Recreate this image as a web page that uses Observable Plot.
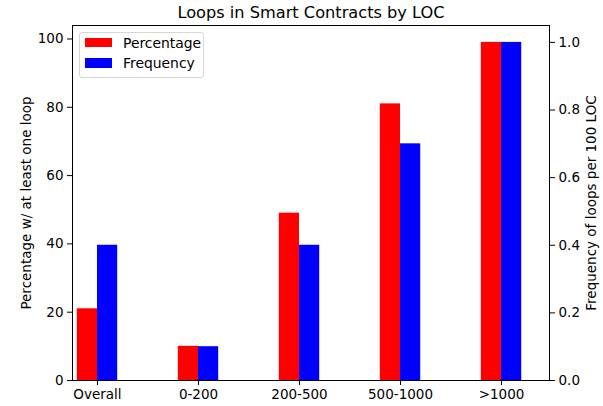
<!DOCTYPE html>
<html><head><meta charset="utf-8">
<script src="https://cdn.jsdelivr.net/npm/d3@7"></script>
<script src="https://cdn.jsdelivr.net/npm/@observablehq/plot@0.6"></script>
<style>
body{margin:0;background:#fff;font-family:"DejaVu Sans",sans-serif;}
#wrap{position:relative;width:603px;height:406px;}
.legend{position:absolute;left:79px;top:32px;width:125px;height:46px;border:1px solid #d6d6d6;border-radius:3px;background:rgba(255,255,255,0.8);box-sizing:border-box;font-size:13.9px;color:#000;font-family:"DejaVu Sans",sans-serif;}
.legend .row{position:absolute;left:5px;height:16px;line-height:16px;white-space:nowrap;}
.legend .sw{display:inline-block;width:27px;height:9.5px;vertical-align:middle;margin-right:11px;margin-top:-2px;}
</style></head><body><div id="wrap"></div>
<script>
const categories = ["Overall", "0-200", "200-500", "500-1000", ">1000"];
const percentage = [21, 10, 49, 81, 99];
const frequency = [0.4, 0.1, 0.4, 0.7, 1.0];
const leftTicks = [0, 20, 40, 60, 80, 100];
const rightTicks = [0, 0.2, 0.4, 0.6, 0.8, 1.0];
const seriesNames = ["Percentage", "Frequency"];
const seriesColors = ["#ff0000", "#0000ff"];
const title = "Loops in Smart Contracts by LOC";
const leftLabel = "Percentage w/ at least one loop";
const rightLabel = "Frequency of loops per 100 LOC";

const leftMax = 99 * 1.05;
const rightMax = 1.0 * 1.05;
const k = leftMax / rightMax;

const rows = categories.map((c, i) => ({i, c, pct: percentage[i], freq: frequency[i], freqScaled: frequency[i] * k}));

const chart = Plot.plot({
  width: 603,
  height: 406,
  marginLeft: 72,
  marginRight: 54,
  marginTop: 25,
  marginBottom: 26,
  style: {fontFamily: "DejaVu Sans, sans-serif", fontSize: "13.5px", color: "#000", background: "#fff"},
  x: {domain: [-0.2475, 4.475]},
  y: {domain: [0, leftMax]},
  marks: [
    Plot.rectY(rows, {x1: d => d.i - 0.2, x2: d => d.i, y1: 0, y2: "pct", fill: seriesColors[0], inset: 0}),
    Plot.rectY(rows, {x1: d => d.i, x2: d => d.i + 0.2, y1: 0, y2: "freqScaled", fill: seriesColors[1], inset: 0}),
    Plot.frame({stroke: "#000", strokeWidth: 1}),
    Plot.axisX({ticks: categories.map((c, i) => i), tickFormat: i => categories[i], tickSize: 5, tickPadding: 4, label: null, stroke: "#000"}),
    Plot.axisY({ticks: leftTicks, tickFormat: d => String(d), tickSize: 5, tickPadding: 4, anchor: "left",
      label: leftLabel, labelAnchor: "center", labelArrow: "none", labelOffset: 51}),
    Plot.axisY(rightTicks.map(t => t * k), {anchor: "right", tickFormat: d => (d / k).toFixed(1), tickSize: 5, tickPadding: 4,
      label: rightLabel, labelAnchor: "center", labelArrow: "none", labelOffset: 46}),
    Plot.text([title], {frameAnchor: "top", lineAnchor: "middle", dy: -13, text: d => d, fontSize: 16.2, fill: "#000"})
  ]
});

const wrap = document.getElementById("wrap");
wrap.appendChild(chart);

const legend = document.createElement("div");
legend.className = "legend";
seriesNames.forEach((name, j) => {
  const row = document.createElement("div");
  row.className = "row";
  row.style.top = (1.5 + j * 20.5) + "px";
  const sw = document.createElement("span");
  sw.className = "sw";
  sw.style.background = seriesColors[j];
  row.appendChild(sw);
  row.appendChild(document.createTextNode(name));
  legend.appendChild(row);
});
wrap.appendChild(legend);
</script></body></html>
